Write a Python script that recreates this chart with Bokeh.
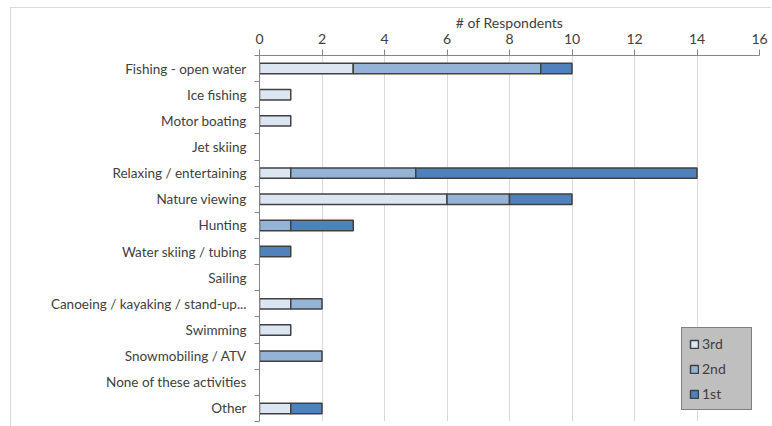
from bokeh.plotting import figure
from bokeh.models import Range1d, FixedTicker, Legend, LegendItem, ColumnDataSource
from bokeh.embed import file_html
from bokeh.resources import INLINE

categories = [
    "Fishing - open water",
    "Ice fishing",
    "Motor boating",
    "Jet skiing",
    "Relaxing / entertaining",
    "Nature viewing",
    "Hunting",
    "Water skiing / tubing",
    "Sailing",
    "Canoeing / kayaking / stand-up...",
    "Swimming",
    "Snowmobiling / ATV",
    "None of these activities",
    "Other",
]
third = [3, 1, 1, 0, 1, 6, 0, 0, 0, 1, 1, 0, 0, 1]
second = [6, 0, 0, 0, 4, 2, 1, 0, 0, 1, 0, 2, 0, 0]
first = [1, 0, 0, 0, 9, 2, 2, 1, 0, 0, 0, 0, 0, 1]
series_names = ["3rd", "2nd", "1st"]
series_colors = ["#dce6f2", "#95b3d7", "#4f81bd"]
x_ticks = [0, 2, 4, 6, 8, 10, 12, 14, 16]

FONT = "Lato"
TXT = "#404040"
n = len(categories)

p = figure(
    frame_width=500, frame_height=366,
    x_range=Range1d(0, 16), y_range=Range1d(n - 0.5, -0.5),
    x_axis_location="above",
    output_backend="svg", toolbar_location=None,
    min_border_left=248, min_border_right=12, min_border_top=47, min_border_bottom=5,
)
p.styles = {"border-left": "1px solid #d9d9d9", "border-top": "1px solid #d9d9d9",
            "margin-left": "10px", "margin-top": "7px"}
p.outline_line_color = None
p.background_fill_color = "white"
p.border_fill_color = "white"

# top x axis
xa = p.xaxis[0]
xa.ticker = FixedTicker(ticks=x_ticks)
xa.axis_label = "# of Respondents"
xa.axis_label_text_font = FONT
xa.axis_label_text_font_size = "14px"
xa.axis_label_text_font_style = "normal"
xa.axis_label_text_color = TXT
xa.axis_label_standoff = 0
xa.major_label_text_font = FONT
xa.major_label_text_font_size = "14px"
xa.major_label_text_color = TXT
xa.major_label_standoff = 6
xa.major_tick_out = 6
xa.major_tick_in = 0
xa.minor_tick_out = 0
xa.minor_tick_in = 0
xa.major_tick_line_color = "#868686"
xa.axis_line_color = "#868686"

# left y axis
ya = p.yaxis[0]
ya.ticker = FixedTicker(ticks=list(range(n)), minor_ticks=[i - 0.5 for i in range(n + 1)])
ya.major_label_overrides = {i: c for i, c in enumerate(categories)}
ya.major_label_text_font = FONT
ya.major_label_text_font_size = "13.5px"
ya.major_label_text_color = TXT
ya.major_label_standoff = 8
ya.major_tick_out = 0
ya.major_tick_in = 0
ya.minor_tick_out = 5
ya.minor_tick_in = 0
ya.minor_tick_line_color = "#868686"
ya.axis_line_color = "#868686"

p.xgrid.grid_line_color = "#d9d9d9"
p.ygrid.grid_line_color = None

items = []
left_acc = [0] * n
for name, vals, col in zip(series_names, [third, second, first], series_colors):
    ys, ls, rs = [], [], []
    for i, v in enumerate(vals):
        if v > 0:
            ys.append(i)
            ls.append(left_acc[i])
            rs.append(left_acc[i] + v)
        left_acc[i] += v
    src = ColumnDataSource(dict(y=ys, left=ls, right=rs))
    r = p.hbar(y="y", left="left", right="right", height=0.4, source=src,
               fill_color=col, line_color="#404040", line_width=1.5)
    items.append(LegendItem(label=name, renderers=[r]))

legend = Legend(
    items=items, location=(422, 11),
    glyph_width=10, glyph_height=10, label_standoff=3,
    label_width=42, label_height=15, spacing=8, padding=7, margin=0,
    label_text_font=FONT, label_text_font_size="14px", label_text_color="#404040",
    background_fill_color="#bfbfbf", background_fill_alpha=1.0,
    border_line_color="#404040", border_line_width=1.5,
)
p.add_layout(legend, "center")

open("out.html", "w").write(file_html(p, INLINE))
